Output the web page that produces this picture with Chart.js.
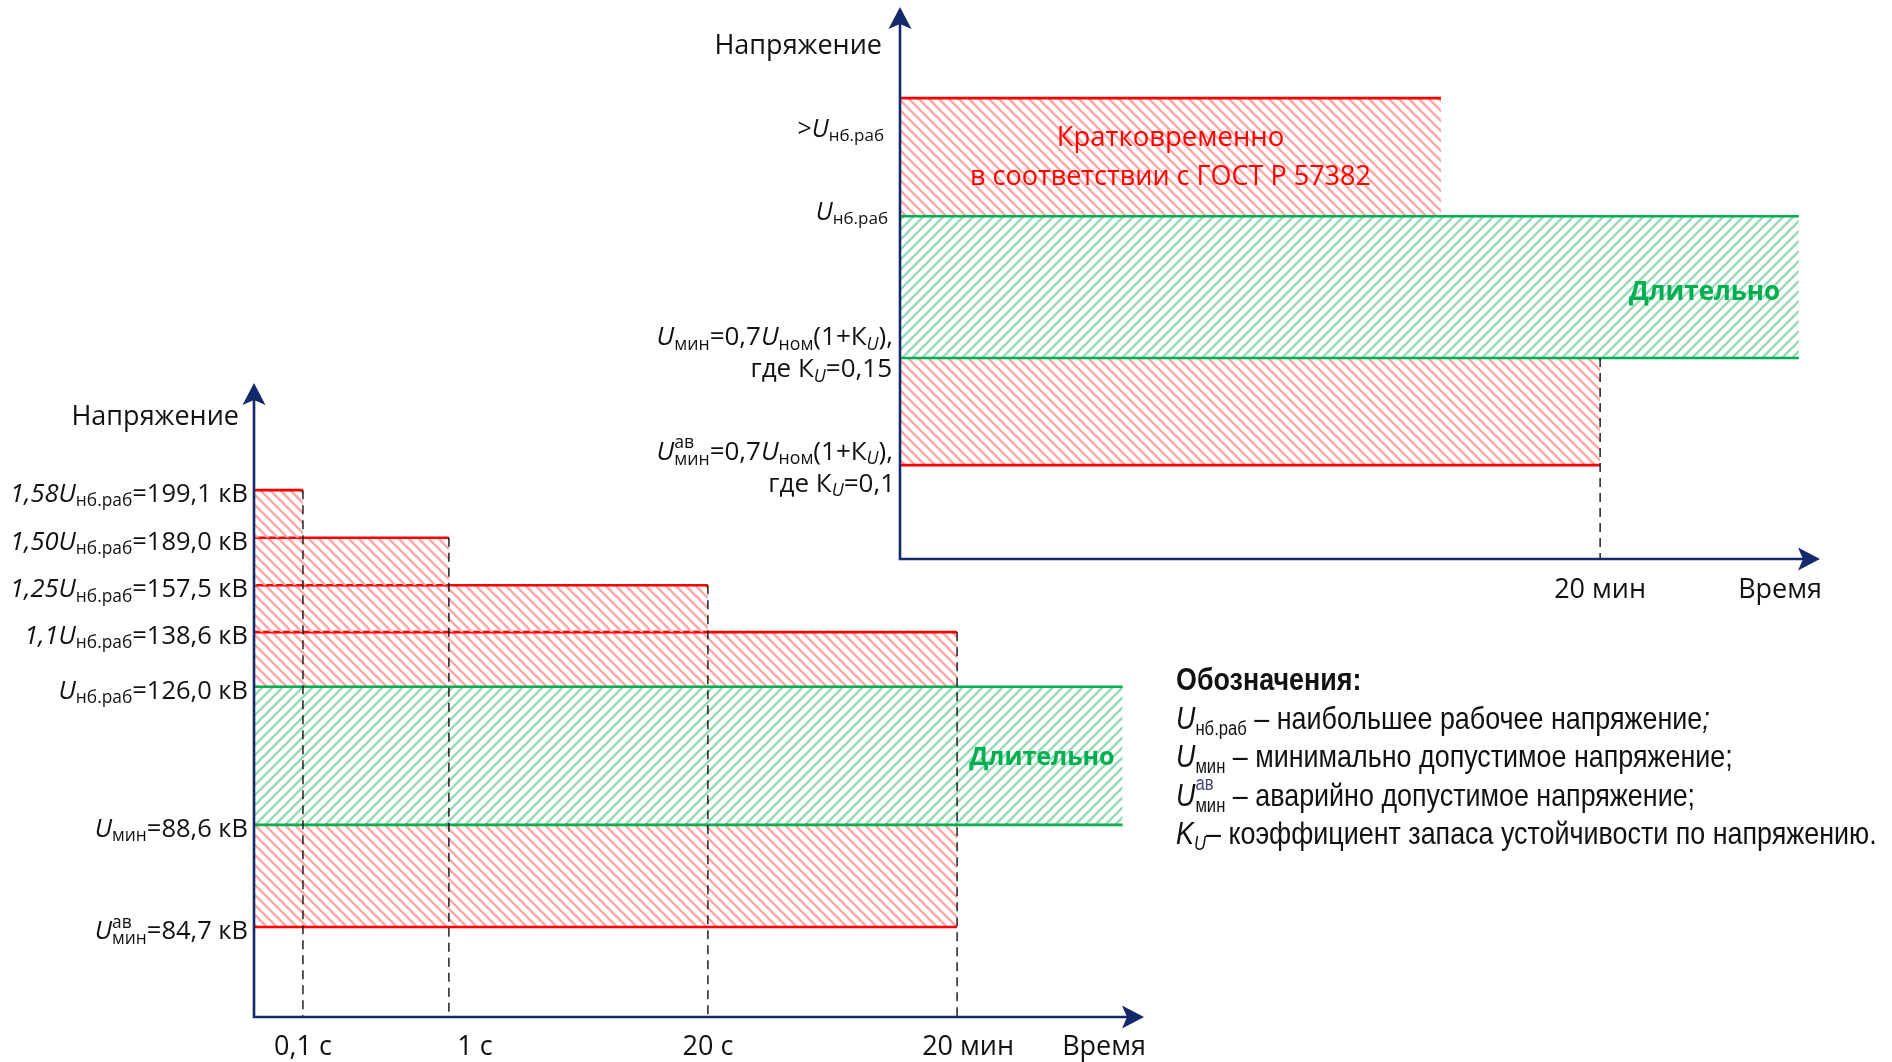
<!DOCTYPE html>
<html lang="ru">
<head>
  <meta charset="UTF-8">
  <title>Допустимые уровни напряжения</title>
  <script src="https://cdn.jsdelivr.net/npm/chart.js@4.4.1/dist/chart.umd.min.js"></script>
  <style>
    html, body { margin: 0; padding: 0; background: #fff; overflow: hidden; }
    #wrap { position: relative; width: 1892px; height: 1062px; }
    #wrap canvas { position: absolute; left: 0; top: 0; }
    /* Arial Narrow look: Liberation Sans squeezed horizontally */
    #legend {
      position: absolute; left: 1176px; top: 660px;
      font-family: 'Liberation Sans', Arial, sans-serif;
      font-size: 32px; line-height: 38.5px; color: #111; white-space: nowrap;
      transform: scaleX(0.84); transform-origin: 0 0;
    }
    #legend div { height: 38.5px; }
    #legend .sb { font-size: 0.62em; vertical-align: -6px; line-height: 0; font-style: normal; }
    #legend .st { position: relative; font-size: 0.62em; vertical-align: -6px; line-height: 0; }
    #legend .av { position: absolute; left: 0; top: -11px; color: #45457a; }
  </style>
</head>
<body>
<div id="wrap">
  <canvas id="lowChart" width="1892" height="1062"></canvas>
  <canvas id="upChart" width="1892" height="1062"></canvas>
  <div id="legend">
    <div><b>Обозначения:</b></div>
    <div><i>U</i><span class="sb">нб.раб</span> – наибольшее рабочее напряжение<i>;</i></div>
    <div><i>U</i><span class="sb">мин</span> – минимально допустимое напряжение;</div>
    <div><i>U</i><span class="st"><span class="av">ав</span>мин</span> – аварийно допустимое напряжение;</div>
    <div><i>K<span class="sb" style="font-style:italic">U</span></i>– коэффициент запаса устойчивости по напряжению.</div>
  </div>
</div>

<script>
// lower diagram: voltage levels (schematic position on the axis, % of its length)
const lowFactor = ['1,58', '1,50', '1,25', '1,1', '', '', ''];
const lowSup = ['', '', '', '', '', '', 'ав'];
const lowSub = ['нб.раб', 'нб.раб', 'нб.раб', 'нб.раб', 'нб.раб', 'мин', 'мин'];
const lowKV = [199.1, 189.0, 157.5, 138.6, 126.0, 88.6, 84.7];
const lowLevel = [83.1, 75.6, 68.1, 60.7, 52.1, 30.3, 14.2];
// time marks (schematic position, % of axis)
const lowTimeLabels = ['0,1 с', '1 с', '20 с', '20 мин'];
const lowTime = [5.5, 21.9, 51.0, 79.0];
const lowLongEnd = 97.6;

// upper diagram: >Uнб.раб, Uнб.раб, Uмин, Uав.мин
const upLevel = [83.5, 62.1, 36.4, 17.0];
const upShortEnd = 58.8;
const upLongEnd = 97.7;
const upTime = 76.1;
const upTimeLabel = '20 мин';
const upKu = ['0,15', '0,1'];

const RED = '#ff0000', GREEN = '#00b050', NAVY = '#14296b';
const FONT = "'Open Sans', 'Noto Sans', sans-serif";

function hatch(color, dir) {
  const p = 10;
  const c = document.createElement('canvas');
  c.width = c.height = p;
  const g = c.getContext('2d');
  g.strokeStyle = color;
  g.lineWidth = 2.4;
  g.beginPath();
  if (dir > 0) {
    g.moveTo(-2, p + 2); g.lineTo(p + 2, -2);
    g.moveTo(-2, 2); g.lineTo(2, -2);
    g.moveTo(p - 2, p + 2); g.lineTo(p + 2, p - 2);
  } else {
    g.moveTo(-2, -2); g.lineTo(p + 2, p + 2);
    g.moveTo(p - 2, -2); g.lineTo(p + 2, 2);
    g.moveTo(-2, p - 2); g.lineTo(2, p + 2);
  }
  g.stroke();
  return g.createPattern(c, 'repeat');
}
const redHatch = hatch('#ffa6a6', -1);
const greenHatch = hatch('#98d9b4', 1);

// line at level y from the axis to xEnd, hatched down/up to fillTo
function band(xEnd, y, fillTo, color, pattern, order) {
  return {
    data: [{ x: 0, y }, { x: xEnd, y }],
    borderColor: color, borderWidth: 2.6, backgroundColor: pattern,
    fill: { value: fillTo }, pointRadius: 0, tension: 0, order
  };
}
function hline(xEnd, y, color) {
  return { data: [{ x: 0, y }, { x: xEnd, y }], borderColor: color, borderWidth: 2.6, fill: false, pointRadius: 0, order: 1 };
}
function vdash(x, top) {
  return { data: [{ x, y: top }, { x, y: 0 }], borderColor: '#111', borderWidth: 1.4, borderDash: [9, 6], fill: false, pointRadius: 0, order: 0 };
}

function parseRich(s) {
  const runs = [];
  let italic = false, buf = '', i = 0;
  const push = () => { if (buf) runs.push({ t: buf, it: italic }); buf = ''; };
  while (i < s.length) {
    const c = s[i];
    if (c === '*') { push(); italic = !italic; i++; continue; }
    if ((c === '_' || c === '^') && s[i + 1] === '{') {
      push();
      const end = s.indexOf('}', i);
      const t = s.slice(i + 2, end);
      const kind = c === '_' ? 'sub' : 'sup';
      const prev = runs[runs.length - 1];
      if (prev && prev.kind === 'sup' && kind === 'sub') prev.pair = { t, it: italic };
      else runs.push({ t, it: italic, kind });
      i = end + 1;
      continue;
    }
    buf += c; i++;
  }
  push();
  return runs;
}

// text with *italic*, _{sub} and ^{sup}; y = visual middle of the line
function rich(ctx, src, x, y, o = {}) {
  const size = o.size || 25, small = size * 0.68;
  const weight = o.weight || 'normal';
  const font = (it, s) => `${it ? 'italic ' : ''}${weight} ${s}px ${FONT}`;
  const runs = parseRich(src);
  let total = 0;
  for (const r of runs) {
    ctx.font = font(r.it, r.kind ? small : size);
    r.w = ctx.measureText(r.t).width;
    if (r.pair) {
      ctx.font = font(r.pair.it, small);
      r.w = Math.max(r.w, ctx.measureText(r.pair.t).width);
    }
    total += r.w;
  }
  let cx = o.align === 'right' ? x - total : o.align === 'center' ? x - total / 2 : x;
  const base = y + size * 0.36;
  ctx.save();
  ctx.fillStyle = o.color || '#111';
  ctx.textAlign = 'left';
  ctx.textBaseline = 'alphabetic';
  for (const r of runs) {
    ctx.font = font(r.it, r.kind ? small : size);
    let by = base;
    if (r.kind === 'sub') by += size * 0.16;
    if (r.kind === 'sup') by -= size * 0.44;
    ctx.fillText(r.t, cx, by);
    if (r.pair) {
      ctx.font = font(r.pair.it, small);
      ctx.fillText(r.pair.t, cx, base + size * 0.2);
    }
    cx += r.w;
  }
  ctx.restore();
}

function arrow(ctx, tx, ty, dx, dy) {
  const L = 22, W = 11.5, N = 5;
  const nx = -dy, ny = dx;
  ctx.beginPath();
  ctx.moveTo(tx, ty);
  ctx.lineTo(tx - dx * L + nx * W, ty - dy * L + ny * W);
  ctx.lineTo(tx - dx * (L - N), ty - dy * (L - N));
  ctx.lineTo(tx - dx * L - nx * W, ty - dy * L - ny * W);
  ctx.closePath();
  ctx.fill();
}

const axesPlugin = {
  id: 'arrowAxes',
  afterDatasetsDraw(chart) {
    const { ctx } = chart;
    const xs = chart.scales.x, ys = chart.scales.y;
    const x0 = xs.getPixelForValue(0), x1 = xs.getPixelForValue(100);
    const y0 = ys.getPixelForValue(0), y1 = ys.getPixelForValue(100);
    ctx.save();
    ctx.strokeStyle = NAVY;
    ctx.fillStyle = NAVY;
    ctx.lineWidth = 2.6;
    ctx.beginPath();
    ctx.moveTo(x0, y1 + 16);
    ctx.lineTo(x0, y0);
    ctx.lineTo(x1 - 16, y0);
    ctx.stroke();
    arrow(ctx, x0, y1, 0, -1);
    arrow(ctx, x1, y0, 1, 0);
    ctx.restore();
  }
};

const lowText = {
  id: 'lowText',
  afterDraw(chart) {
    const { ctx } = chart;
    const xs = chart.scales.x, ys = chart.scales.y;
    const x0 = xs.getPixelForValue(0), yb = ys.getPixelForValue(0);
    lowLevel.forEach((v, i) => {
      const kv = lowKV[i].toFixed(1).replace('.', ',');
      const head = `*${lowFactor[i]}U*`;
      const idx = (lowSup[i] ? `^{${lowSup[i]}}` : '') + `_{${lowSub[i]}}`;
      rich(ctx, `${head}${idx}=${kv} кВ`, x0 - 6, ys.getPixelForValue(v) + 3, { align: 'right', size: 25.5 });
    });
    const nudge = [0, 26, 0, 11];
    lowTime.forEach((t, i) => rich(ctx, lowTimeLabels[i], xs.getPixelForValue(t) + nudge[i], yb + 28, { align: 'center', size: 27 }));
    rich(ctx, 'Время', xs.getPixelForValue(100) + 2, yb + 28, { align: 'right', size: 27 });
    rich(ctx, 'Напряжение', x0 - 15, ys.getPixelForValue(100) + 32, { align: 'right', size: 27 });
    const cx = (xs.getPixelForValue(lowTime[3]) + xs.getPixelForValue(lowLongEnd)) / 2;
    const cy = (ys.getPixelForValue(lowLevel[4]) + ys.getPixelForValue(lowLevel[5])) / 2;
    rich(ctx, 'Длительно', cx + 2, cy, { align: 'center', weight: 'bold', color: GREEN, size: 25 });
  }
};

const upText = {
  id: 'upText',
  afterDraw(chart) {
    const { ctx } = chart;
    const xs = chart.scales.x, ys = chart.scales.y;
    const x0 = xs.getPixelForValue(0), yb = ys.getPixelForValue(0);
    const py = upLevel.map(v => ys.getPixelForValue(v));
    rich(ctx, '>*U*_{нб.раб}', x0 - 16, py[0] + (py[1] - py[0]) * 0.25, { align: 'right' });
    rich(ctx, '*U*_{нб.раб}', x0 - 12, py[1] - 5, { align: 'right' });
    rich(ctx, '*U*_{мин}=0,7*U*_{ном}(1+К*_{U}*),', x0 - 7, py[2] - 22, { align: 'right', size: 26 });
    rich(ctx, `где К*_{U}*=${upKu[0]}`, x0 - 8, py[2] + 10, { align: 'right', size: 26 });
    rich(ctx, '*U*^{ав}_{мин}=0,7*U*_{ном}(1+К*_{U}*),', x0 - 7, py[3] - 15, { align: 'right', size: 26 });
    rich(ctx, `где К*_{U}*=${upKu[1]}`, x0 - 5, py[3] + 17, { align: 'right', size: 26 });
    const xt = xs.getPixelForValue(upTime);
    rich(ctx, upTimeLabel, xt, yb + 29, { align: 'center', size: 27 });
    rich(ctx, 'Время', xs.getPixelForValue(100) + 2, yb + 29, { align: 'right', size: 27 });
    rich(ctx, 'Напряжение', x0 - 18, ys.getPixelForValue(100) + 37, { align: 'right', size: 27 });
    const cx = (x0 + xs.getPixelForValue(upShortEnd)) / 2, cy = (py[0] + py[1]) / 2;
    rich(ctx, 'Кратковременно', cx, cy - 21, { align: 'center', color: RED, size: 27.5 });
    rich(ctx, 'в соответствии с ГОСТ Р 57382', cx, cy + 18, { align: 'center', color: RED, size: 27 });
    rich(ctx, 'Длительно', (xt + xs.getPixelForValue(upLongEnd)) / 2 + 5, (py[1] + py[2]) / 2 + 3,
      { align: 'center', weight: 'bold', color: GREEN, size: 26 });
  }
};

function makeChart(id, datasets, padding, textPlugin) {
  return new Chart(document.getElementById(id), {
    type: 'line',
    data: { datasets },
    options: {
      responsive: false,
      animation: false,
      devicePixelRatio: 1,
      events: [],
      layout: { padding },
      plugins: { legend: { display: false }, tooltip: { enabled: false } },
      scales: {
        x: { type: 'linear', min: 0, max: 100, display: false },
        y: { type: 'linear', min: 0, max: 100, display: false }
      }
    },
    plugins: [axesPlugin, textPlugin]
  });
}

const lowSets = [];
for (let i = 0; i < 4; i++) lowSets.push(band(lowTime[i], lowLevel[i], lowLevel[i + 1], RED, redHatch, 4));
lowSets.push(band(lowLongEnd, lowLevel[4], lowLevel[5], GREEN, greenHatch, 3));
lowSets.push(band(lowTime[3], lowLevel[6], lowLevel[5], RED, redHatch, 3));
lowSets.push(hline(lowLongEnd, lowLevel[5], GREEN));
lowTime.forEach((t, i) => lowSets.push(vdash(t, lowLevel[i])));

const upSets = [
  band(upShortEnd, upLevel[0], upLevel[1], RED, redHatch, 4),
  band(upLongEnd, upLevel[1], upLevel[2], GREEN, greenHatch, 3),
  band(upTime, upLevel[3], upLevel[2], RED, redHatch, 3),
  hline(upLongEnd, upLevel[2], GREEN),
  vdash(upTime, upLevel[2])
];

makeChart('lowChart', lowSets, { left: 254, top: 383, right: 748, bottom: 45 }, lowText);
makeChart('upChart', upSets, { left: 900, top: 7, right: 72, bottom: 503 }, upText);
</script>
</body>
</html>
